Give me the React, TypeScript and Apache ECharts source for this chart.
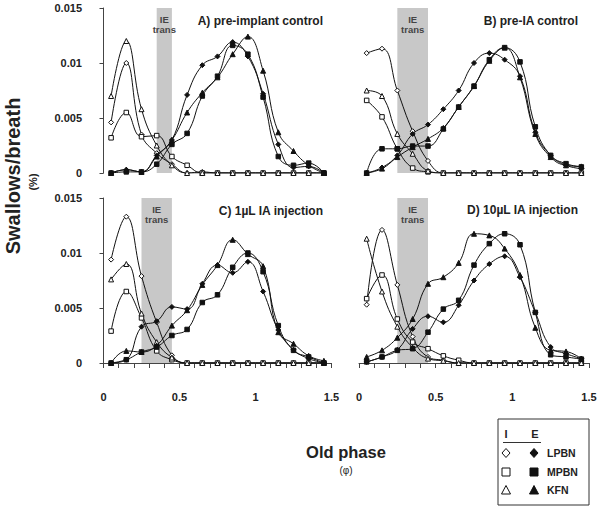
import React, { useEffect, useRef } from "react";
import * as echarts from "echarts";

const PHASE = [0.05, 0.15, 0.25, 0.35, 0.45, 0.55, 0.65, 0.75, 0.85, 0.95, 1.05, 1.15, 1.25, 1.35, 1.45];

// Panel A) pre-implant control
const A_LPBN_I = [0.0046, 0.0100, 0.0035, 0.0018, 0.0008, 0, 0.0001, 0, 0, 0, 0, 0, 0, 0, 0];
const A_MPBN_I = [0.0032, 0.0055, 0.0033, 0.0034, 0.0015, 0.0007, 0, 0, 0, 0, 0, 0, 0, 0, 0];
const A_KFN_I = [0.0070, 0.0120, 0.0058, 0.0025, 0.0007, 0, 0, 0, 0, 0, 0, 0, 0, 0, 0];
const A_LPBN_E = [0, 0.0003, 0.0001, 0.0016, 0.0030, 0.0071, 0.0098, 0.0106, 0.0119, 0.0106, 0.0072, 0.0026, 0.0005, 0.0006, 0];
const A_MPBN_E = [0, 0.0001, 0.0001, 0.0008, 0.0026, 0.0036, 0.0070, 0.0088, 0.0116, 0.0108, 0.0069, 0.0015, 0.0007, 0.0009, 0];
const A_KFN_E = [0, 0.0003, 0.0001, 0.0015, 0.0030, 0.0055, 0.0073, 0.0087, 0.0108, 0.0124, 0.0093, 0.0037, 0.0020, 0.0007, 0];

// Panel B) pre-IA control
const B_LPBN_I = [0.0109, 0.0113, 0.0075, 0.0038, 0.0011, 0, 0, 0, 0, 0, 0, 0, 0, 0, 0];
const B_MPBN_I = [0.0066, 0.0051, 0.0022, 0.00045, 0.0001, 0, 0, 0, 0, 0, 0, 0, 0, 0, 0];
const B_KFN_I = [0.0075, 0.0070, 0.00355, 0.00175, 0.0002, 0, 0, 0, 0, 0, 0, 0, 0, 0, 0];
const B_LPBN_E = [0, 0.0005, 0.0016, 0.00355, 0.0044, 0.0058, 0.0075, 0.0100, 0.0109, 0.0103, 0.0088, 0.0037, 0.0016, 0.0007, 0.0004];
const B_MPBN_E = [0, 0.0022, 0.0022, 0.00245, 0.00245, 0.0040, 0.0060, 0.0079, 0.0103, 0.0114, 0.0101, 0.0042, 0.0016, 0.00085, 0.00055];
const B_KFN_E = [0, 0.0004, 0.00145, 0.00235, 0.0031, 0.0041, 0.0060, 0.0079, 0.0102, 0.0114, 0.0087, 0.00355, 0.00145, 0.0007, 0.0006];

// Panel C) 1µL IA injection
const C_LPBN_I = [0.0094, 0.0133, 0.0079, 0.0037, 0.0007, 0, 0, 0, 0, 0, 0, 0, 0, 0, 0];
const C_MPBN_I = [0.0029, 0.0065, 0.0041, 0.0011, 0.0003, 0, 0, 0, 0, 0, 0, 0, 0, 0, 0];
const C_KFN_I = [0.0076, 0.0090, 0.0045, 0.0019, 0.0005, 0, 0, 0, 0, 0, 0, 0, 0, 0, 0];
const C_LPBN_E = [0, 0.0003, 0.0033, 0.0038, 0.0051, 0.0049, 0.0072, 0.0089, 0.0082, 0.0092, 0.0065, 0.0030, 0.0012, 0.0004, 0];
const C_MPBN_E = [0, 0.0003, 0.0010, 0.00145, 0.0025, 0.00305, 0.0055, 0.0062, 0.0087, 0.0100, 0.0083, 0.0034, 0.00115, 0.00055, 0];
const C_KFN_E = [0, 0.0011, 0.0010, 0.0016, 0.0034, 0.0048, 0.0071, 0.0089, 0.0112, 0.0099, 0.0088, 0.0028, 0.00175, 0.00065, 0.0002];

// Panel D) 10µL IA injection
const D_LPBN_I = [0.0053, 0.0121, 0.0071, 0.0024, 0.00055, 0.00025, 0, 0, 0, 0, 0, 0, 0, 0, 0];
const D_MPBN_I = [0.00585, 0.0080, 0.0040, 0.0019, 0.0013, 0.00065, 0.00025, 0, 0, 0, 0, 0, 0, 0, 0];
const D_KFN_I = [0.0113, 0.0065, 0.0033, 0.0014, 0.0004, 0.0002, 0, 0, 0, 0, 0, 0, 0, 0, 0];
const D_LPBN_E = [0.0001, 0.00055, 0.0012, 0.0031, 0.00425, 0.0037, 0.00525, 0.0075, 0.0090, 0.0097, 0.0078, 0.0046, 0.00145, 0.00085, 0.0004];
const D_MPBN_E = [0.0001, 0.00055, 0.00115, 0.0013, 0.0028, 0.0049, 0.0057, 0.0089, 0.01085, 0.01175, 0.01075, 0.0046, 0.00075, 0.00055, 0.00035];
const D_KFN_E = [0.00055, 0.00115, 0.0023, 0.0040, 0.0072, 0.0078, 0.0091, 0.01175, 0.0116, 0.0104, 0.0080, 0.0032, 0.00115, 0.00105, 0.0004];

const BANDS = [[0.35, 0.45], [0.25, 0.45], [0.25, 0.45], [0.25, 0.45]];
const TITLES = ["A) pre-implant control", "B) pre-IA control", "C) 1µL IA injection", "D) 10µL IA injection"];
const Y_TICKS = [0, 0.005, 0.01, 0.015];
const X_LABELS = [0, 0.5, 1, 1.5];

const PANELS = [
  [A_LPBN_I, A_MPBN_I, A_KFN_I, A_LPBN_E, A_MPBN_E, A_KFN_E],
  [B_LPBN_I, B_MPBN_I, B_KFN_I, B_LPBN_E, B_MPBN_E, B_KFN_E],
  [C_LPBN_I, C_MPBN_I, C_KFN_I, C_LPBN_E, C_MPBN_E, C_KFN_E],
  [D_LPBN_I, D_MPBN_I, D_KFN_I, D_LPBN_E, D_MPBN_E, D_KFN_E],
];
const SERIES_NAMES = ["LPBN I", "MPBN I", "KFN I", "LPBN E", "MPBN E", "KFN E"];
const SYMBOLS = ["diamond", "rect", "triangle", "diamond", "rect", "triangle"];
const SIZES = [5, 4.5, 5, 5, 4.5, 5];

const FONT = "'Liberation Sans', Arial, Helvetica, sans-serif";

export default function App() {
  const ref = useRef<HTMLDivElement>(null);
  useEffect(() => {
    if (!ref.current) return;
    const chart = echarts.init(ref.current, null, { renderer: "svg" });

    const grids = [
      { left: 103.5, top: 8, width: 228, height: 165 },
      { left: 359, top: 8, width: 230, height: 165 },
      { left: 103.5, top: 198, width: 228, height: 165 },
      { left: 359, top: 198, width: 230, height: 165 },
    ];

    const xAxes = grids.map((_, i) => ({
      type: "value",
      gridIndex: i,
      min: 0,
      max: 1.5,
      interval: 0.1,
      show: i >= 2,
      offset: 19,
      axisLine: { show: true, lineStyle: { color: "#444", width: 1 } },
      axisTick: { show: true, length: 5, lineStyle: { color: "#444" } },
      splitLine: { show: false },
      axisLabel: {
        show: true,
        margin: 9,
        fontFamily: FONT,
        fontWeight: "bold",
        fontSize: 11,
        color: "#222",
        formatter: (v: number) => {
          const hit = X_LABELS.find((t) => Math.abs(t - v) < 1e-6);
          return hit === undefined ? "" : String(hit);
        },
      },
    }));

    const yAxes = grids.map((_, i) => ({
      type: "value",
      gridIndex: i,
      min: 0,
      max: 0.015,
      interval: 0.005,
      show: i % 2 === 0,
      offset: 12.5,
      axisLine: { show: true, lineStyle: { color: "#444", width: 1 } },
      axisTick: { show: true, length: 4, lineStyle: { color: "#444" } },
      splitLine: { show: false },
      axisLabel: {
        margin: 9,
        fontFamily: FONT,
        fontWeight: "bold",
        fontSize: 11,
        color: "#222",
        formatter: (v: number) => {
          const hit = Y_TICKS.find((t) => Math.abs(t - v) < 1e-9);
          return hit === undefined ? "" : String(hit);
        },
      },
    }));

    const series: any[] = [];
    PANELS.forEach((panel, p) => {
      panel.forEach((vals, s) => {
        const filled = s >= 3;
        const item: any = {
          type: "line",
          name: SERIES_NAMES[s],
          xAxisIndex: p,
          yAxisIndex: p,
          data: PHASE.map((x, i) => [x, vals[i]]),
          smooth: 0.45,
          symbol: SYMBOLS[s],
          symbolSize: SIZES[s],
          showSymbol: true,
          z: filled ? 4 : 3,
          lineStyle: { color: "#111", width: 1 },
          itemStyle: { color: filled ? "#111" : "#fff", borderColor: "#111", borderWidth: 1 },
        };
        if (s === 0) {
          item.markArea = {
            silent: true,
            itemStyle: { color: "#c8c8c8" },
            label: {
              show: true,
              position: "insideTop",
              distance: 6,
              formatter: "IE\ntrans",
              fontFamily: FONT,
              fontWeight: "bold",
              fontSize: 9.5,
              lineHeight: 10,
              color: "#444",
            },
            data: [[{ xAxis: BANDS[p][0] }, { xAxis: BANDS[p][1] }]],
          };
        }
        series.push(item);
      });
    });

    const t = (text: string, x: number, y: number, size: number, extra: any = {}) => ({
      type: "text",
      x,
      y,
      rotation: extra.rotation || 0,
      style: {
        text,
        font: `${extra.weight || "bold"} ${size}px ${FONT}`,
        fill: extra.fill || "#222",
        textAlign: extra.align || "center",
        textVerticalAlign: "middle",
      },
    });

    const legendX1 = 506;
    const legendX2 = 534;
    const rows = [453, 472, 490];
    const graphic: any[] = [
      t(TITLES[0], 323, 21, 12, { align: "right" }),
      t(TITLES[1], 578, 21, 12, { align: "right" }),
      t(TITLES[2], 323, 211, 12, { align: "right" }),
      t(TITLES[3], 578, 210, 12, { align: "right" }),
      t("Swallows/breath", 13, 176, 20, { rotation: Math.PI / 2 }),
      t("(%)", 33, 182, 11, { rotation: Math.PI / 2 }),
      t("Old phase", 346, 452, 16.5),
      t("(φ)", 346, 470, 10, { weight: "normal" }),
      {
        type: "rect",
        shape: { x: 498, y: 419, width: 91, height: 86 },
        style: { fill: "none", stroke: "#333", lineWidth: 1 },
      },
      t("I", legendX1, 434, 11),
      t("E", legendX2 + 1, 434, 11),
      {
        type: "line",
        shape: { x1: 503, y1: 442.5, x2: 541, y2: 442.5 },
        style: { stroke: "#333", lineWidth: 1 },
      },
      t("LPBN", 547, rows[0], 10.5, { align: "left" }),
      t("MPBN", 547, rows[1], 10.5, { align: "left" }),
      t("KFN", 547, rows[2], 10.5, { align: "left" }),
    ];
    [legendX1, legendX2].forEach((cx, k) => {
      const fill = k === 0 ? "#fff" : "#111";
      const y0 = rows[0];
      graphic.push({
        type: "polygon",
        shape: { points: [[cx, y0 - 4.5], [cx + 4, y0], [cx, y0 + 4.5], [cx - 4, y0]] },
        style: { fill, stroke: "#111", lineWidth: 1 },
      });
      const y1 = rows[1];
      graphic.push({
        type: "rect",
        shape: { x: cx - 4, y: y1 - 4, width: 8, height: 8 },
        style: { fill, stroke: "#111", lineWidth: 1 },
      });
      const y2 = rows[2];
      graphic.push({
        type: "polygon",
        shape: { points: [[cx, y2 - 4.5], [cx + 4.5, y2 + 4], [cx - 4.5, y2 + 4]] },
        style: { fill, stroke: "#111", lineWidth: 1 },
      });
    });

    chart.setOption({
      animation: false,
      backgroundColor: "#fff",
      grid: grids,
      xAxis: xAxes,
      yAxis: yAxes,
      series,
      graphic,
    });
    return () => chart.dispose();
  }, []);

  return <div ref={ref} style={{ width: 600, height: 508, position: "absolute", left: 0, top: 0 }} />;
}
